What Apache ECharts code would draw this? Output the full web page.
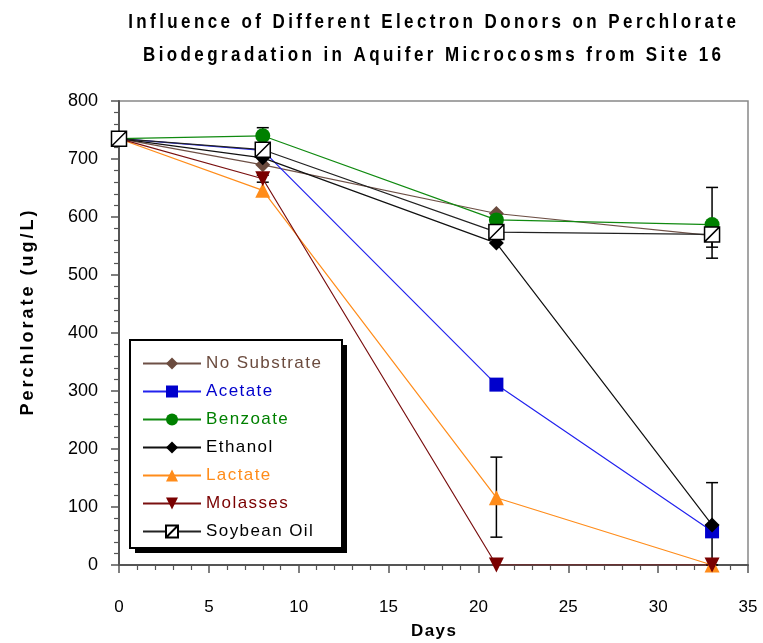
<!DOCTYPE html>
<html><head><meta charset="utf-8">
<script src="https://cdn.jsdelivr.net/npm/echarts@6/dist/echarts.min.js"></script>
<style>html,body{margin:0;padding:0;background:#fff}#c{width:763px;height:643px}</style>
</head><body><div id="c"></div>
<script>
const days = [0, 8, 21, 33];
const seriesNames = ['No Substrate','Acetate','Benzoate','Ethanol','Lactate','Molasses','Soybean Oil'];
const noSubstrate = [735, 690, 606, 568];
const acetate = [735, 715, 311, 58];
const benzoate = [735, 740, 595, 587];
const ethanol = [735, 702, 555, 69];
const lactate = [735, 646, 116, 0];
const molasses = [735, 666, 0, 0];
const soybeanOil = [735, 716, 574, 570];
// error bars: [day, low, high]
const errorBars = [[8, 728, 754], [8, 660, 672], [21, 48, 186], [33, 0, 142], [33, 529, 651], [33, 548, 590]];
const xTicks = [0, 5, 10, 15, 20, 25, 30, 35];
const yTicks = [0, 100, 200, 300, 400, 500, 600, 700, 800];
const titleLines = ['Influence of Different Electron Donors on Perchlorate', 'Biodegradation in Aquifer Microcosms from Site 16'];

const values = [noSubstrate, acetate, benzoate, ethanol, lactate, molasses, soybeanOil];
const lineColors = ['#6e5046', '#2222ee', '#108a10', '#111111', '#ff8c1a', '#7a1010', '#222222'];
const markColors = ['#6b4b3e', '#0000cc', '#008000', '#000000', '#ff8c1a', '#7a0000', '#ffffff'];
const textColors = ['#6b4b3e', '#0000cc', '#008000', '#000000', '#ff8c1a', '#7a0000', '#000000'];
const symbols = ['diamond', 'rect', 'circle', 'diamond', 'triangle', 'triangle',
  'path://M0,0 L10,0 L10,10 L0,10 Z M0,10 L10,0'];
const symbolRotate = [0, 0, 0, 0, 0, 180, 0];
const sizes = [15, 14, 15, 15, 15, 15, 15];

const HAIR = '\u200A', THIN = '\u2009', SIXEM = '\u2006';
function spaced(s, sp) { return s.split('').join(sp); }

const chart = echarts.init(document.getElementById('c'));
const series = seriesNames.map((n, i) => ({
  name: n, type: 'line',
  data: days.map((d, j) => [d, values[i][j]]),
  symbol: symbols[i],
  symbolRotate: symbolRotate[i],
  symbolSize: sizes[i],
  showAllSymbol: true,
  lineStyle: { color: lineColors[i], width: 1.2 },
  itemStyle: { color: markColors[i], borderColor: i === 6 ? '#000' : markColors[i], borderWidth: i === 6 ? 1.5 : 0 },
  z: 3 + i, animation: false
}));
series.push({
  type: 'custom', name: 'err', z: 2, animation: false,
  data: errorBars,
  renderItem: function (params, api) {
    const x = api.value(0), lo = api.value(1), hi = api.value(2);
    const p1 = api.coord([x, lo]), p2 = api.coord([x, hi]);
    const w = 6;
    const st = { stroke: '#000', lineWidth: 1.5 };
    return { type: 'group', children: [
      { type: 'line', shape: { x1: p1[0], y1: p1[1], x2: p2[0], y2: p2[1] }, style: st },
      { type: 'line', shape: { x1: p1[0] - w, y1: p1[1], x2: p1[0] + w, y2: p1[1] }, style: st },
      { type: 'line', shape: { x1: p2[0] - w, y1: p2[1], x2: p2[0] + w, y2: p2[1] }, style: st }
    ]};
  }
});

const titleFont = 'bold 20px "Liberation Sans", Arial, sans-serif';
chart.setOption({
  animation: false,
  graphic: [
    { type: 'text', z: 30, x: 432, y: 22, scaleX: 0.85,
      style: { text: spaced(titleLines[0], THIN), font: titleFont, fill: '#000', textAlign: 'center', textVerticalAlign: 'middle' } },
    { type: 'text', z: 30, x: 432, y: 55, scaleX: 0.85,
      style: { text: spaced(titleLines[1], THIN), font: titleFont, fill: '#000', textAlign: 'center', textVerticalAlign: 'middle' } },
    { type: 'rect', z: 15, shape: { x: 135, y: 345, width: 212, height: 208 }, style: { fill: '#000' } },
    { type: 'rect', z: 16, shape: { x: 130, y: 340, width: 212, height: 208 }, style: { fill: '#fff', stroke: '#000', lineWidth: 2 } }
  ],
  grid: { left: 119, top: 101, width: 629, height: 464, outerBoundsMode: 'none', containLabel: false,
    show: true, borderColor: '#888', borderWidth: 1.5, backgroundColor: 'transparent' },
  legend: {
    orient: 'vertical', left: 130, top: 340, z: 20,
    data: seriesNames.map((n, i) => ({ name: n, textStyle: { color: textColors[i] } })),
    formatter: n => spaced(n, HAIR),
    itemWidth: 58, itemHeight: 15, itemGap: 11,
    padding: [15, 14, 10, 12],
    textStyle: { fontFamily: 'Liberation Sans, Arial', fontSize: 17 },
    selectedMode: false
  },
  xAxis: {
    type: 'value', min: 0, max: 35, interval: 5,
    name: spaced('Days', HAIR), nameLocation: 'middle', nameGap: 58,
    nameTextStyle: { fontFamily: 'Liberation Sans, Arial', fontWeight: 'bold', fontSize: 17, color: '#000' },
    axisLine: { show: true, lineStyle: { color: '#555', width: 2 } },
    axisTick: { show: true, inside: false, length: 8, lineStyle: { color: '#555', width: 1.5 } },
    minorTick: { show: true, splitNumber: 5, length: 5, lineStyle: { color: '#555', width: 1.2 } },
    splitLine: { show: false },
    axisLabel: { margin: 34, fontFamily: 'Liberation Sans, Arial', fontSize: 17, color: '#000',
      formatter: v => xTicks.includes(v) ? String(v) : '' }
  },
  yAxis: {
    type: 'value', min: 0, max: 800, interval: 100,
    name: spaced('Perchlorate (ug/L)', SIXEM), nameLocation: 'middle', nameGap: 82, nameRotate: 90,
    nameTextStyle: { fontFamily: 'Liberation Sans, Arial', fontWeight: 'bold', fontSize: 18, color: '#000', padding: [0, 0, 0, 40] },
    axisLine: { show: true, lineStyle: { color: '#555', width: 2 } },
    axisTick: { show: true, inside: false, length: 8, lineStyle: { color: '#555', width: 1.5 } },
    minorTick: { show: true, splitNumber: 5, length: 5, lineStyle: { color: '#555', width: 1.2 } },
    splitLine: { show: false },
    axisLabel: { margin: 21, fontFamily: 'Liberation Sans, Arial', fontSize: 18, color: '#000',
      formatter: v => yTicks.includes(v) ? String(v) : '' }
  },
  series: series
});
</script></body></html>
